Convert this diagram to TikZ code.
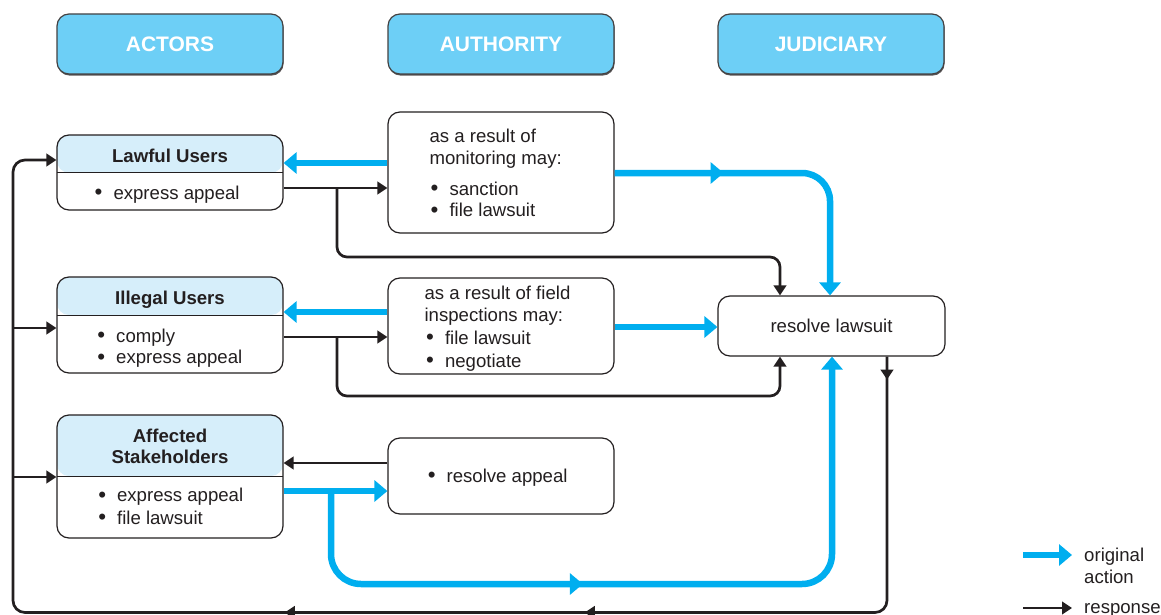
\documentclass[tikz,border=0pt]{standalone}
\usepackage{fontspec}
\usepackage{graphicx}
\setmainfont{Liberation Sans}
\usetikzlibrary{arrows.meta,decorations.markings,shadows}
\definecolor{cyanA}{HTML}{00AEEF}
\definecolor{hdrBlue}{HTML}{6DCFF6}
\definecolor{lightHdr}{HTML}{D6EEFA}
\definecolor{ink}{HTML}{231F20}
\newcommand\bul[1]{\makebox[18.8pt][l]{\raisebox{-0.04em}{\scalebox{1.2}{\textbullet}}}#1}
\tikzset{
  bluetip/.tip={Triangle[width=21pt,length=13pt]},
  blacktip/.tip={Triangle[width=12.5pt,length=10pt]},
  headbox/.style={draw=ink!85, line width=1.2pt, fill=hdrBlue, rounded corners=12pt,
    minimum width=226pt, minimum height=60pt, inner sep=0pt, text=white,
    font=\fontsize{21}{24}\selectfont\bfseries,
    drop shadow={shadow xshift=0.6pt, shadow yshift=-1.6pt, fill=ink!75, opacity=1}},
  actbox/.style={draw=ink, line width=1.2pt, rounded corners=12pt, fill=white,
    minimum width=226pt, inner sep=0pt,
    path picture={\fill[lightHdr] (path picture bounding box.north west) rectangle ([yshift=-#1]path picture bounding box.north east);
      \draw[ink, line width=1pt] ([yshift=-#1]path picture bounding box.north west) -- ([yshift=-#1]path picture bounding box.north east);}},
  authbox/.style={draw=ink, line width=1.2pt, rounded corners=12pt, fill=white,
    minimum width=226pt, inner sep=0pt},
  txt/.style={font=\fontsize{18.6}{22}\selectfont, text=ink, inner sep=0pt, anchor=mid west, yshift=-3.5pt},
  ctxt/.style={font=\fontsize{18.6}{22}\selectfont, text=ink, inner sep=0pt, anchor=mid, yshift=-3.5pt},
  btxt/.style={font=\fontsize{18.6}{22}\selectfont\bfseries, text=ink, inner sep=0pt, anchor=mid, yshift=-2.5pt},
  bluel/.style={draw=cyanA, line width=6.5pt},
  blk/.style={draw=ink, line width=2.7pt},
  midtip/.style 2 args={postaction={decorate}, decoration={markings, mark=at position #1 with {\arrow{#2}}}},
}
\begin{document}
\begin{tikzpicture}[x=1pt,y=-1pt]
\useasboundingbox (0,0) rectangle (1161,615);

% column headers
\node[headbox] (hA) at (170,44) {ACTORS};
\node[headbox] (hB) at (501,44) {AUTHORITY};
\node[headbox] (hC) at (831,44) {JUDICIARY};

% actor boxes
\node[actbox=37.7pt, minimum height=75pt] (law) at (170,172.5) {};
\node[actbox=38pt, minimum height=96pt] (ill) at (170,325) {};
\node[actbox=61pt, minimum height=123pt] (aff) at (170,476.5) {};

\node[btxt] (lawT) at (170,157) {Lawful Users};
\node[txt] (law1) at (94.5,193) {\bul{express appeal}};

\node[btxt] (illT) at (170,299.5) {Illegal Users};
\node[txt] (ill1) at (97.2,336) {\bul{comply}};
\node[txt] (ill2) at (97.2,357.5) {\bul{express appeal}};

\node[btxt] (affT1) at (170,437) {Affected};
\node[btxt] (affT2) at (170,458.5) {Stakeholders};
\node[txt] (aff1) at (98.1,495.5) {\bul{express appeal}};
\node[txt] (aff2) at (98.1,518) {\bul{file lawsuit}};

% authority boxes
\node[authbox, minimum height=121pt] (mon) at (501,172.5) {};
\node[authbox, minimum height=96pt] (fld) at (501,326) {};
\node[authbox, minimum height=76pt] (app) at (501,476) {};

\node[txt] (mon1) at (429.3,136) {as a result of};
\node[txt] (mon2) at (429.3,158) {monitoring may:};
\node[txt] (mon3) at (430.5,189) {\bul{sanction}};
\node[txt] (mon4) at (430.5,210.5) {\bul{file lawsuit}};

\node[txt] (fld1) at (424.4,293.8) {as a result of field};
\node[txt] (fld2) at (424.4,315.5) {inspections may:};
\node[txt] (fld3) at (426,338) {\bul{file lawsuit}};
\node[txt] (fld4) at (426,361) {\bul{negotiate}};

\node[txt] (app1) at (427.6,476) {\bul{resolve appeal}};

% judiciary
\node[authbox, minimum width=227pt, minimum height=60pt] (res) at (831.5,326) {};
\node[ctxt] (resT) at (831.5,326.5) {resolve lawsuit};

% junctions
\coordinate (jLaw) at (337,188);
\coordinate (jIll) at (337,337);
\coordinate (jAff) at (331,491);
\coordinate (jLoopI) at (13,328);
\coordinate (jLoopA) at (13,477);

% original actions (blue)
\draw[bluel, -{bluetip}] (mon.west |- 0,163) -- (law.east |- 0,163);
\draw[bluel, -{bluetip}] (fld.west |- 0,312) -- (ill.east |- 0,312);
\draw[bluel, -{bluetip}] (fld.east |- 0,327) -- (res.west |- 0,327);
\draw[bluel, -{bluetip}] (aff.east |- 0,491) -- (app.west |- 0,491);
\draw[bluel, rounded corners=28pt, -{bluetip}, midtip={109pt}{bluetip}]
  (mon.east |- 0,173) -- (830,173) -- (res.north -| 830,0);
\draw[bluel, rounded corners=30pt, -{bluetip}, midtip={332pt}{bluetip}]
  (jAff) -- (331,584) -- (832,584) -- (res.south -| 832,0);

% responses (black)
\draw[blk, -{blacktip}] (law.east |- 0,188) -- (mon.west |- 0,188);
\draw[blk, -{blacktip}] (ill.east |- 0,337) -- (fld.west |- 0,337);
\draw[blk, -{blacktip}] (app.west |- 0,463) -- (aff.east |- 0,463);
\draw[blk, rounded corners=10pt, -{blacktip}]
  (jLaw) -- (337,257) -- (780,257) -- (res.north -| 780,0);
\draw[blk, rounded corners=10pt, -{blacktip}]
  (jIll) -- (337,396) -- (780,396) -- (res.south -| 780,0);
\draw[blk, rounded corners=12pt, -{blacktip},
  postaction={decorate}, decoration={markings,
    mark=at position 23pt with {\arrow{blacktip}},
    mark=at position 553pt with {\arrow{blacktip}},
    mark=at position 853pt with {\arrow{blacktip}}}]
  (res.south -| 887,0) -- (887,612.5) -- (13,612.5) -- (13,160) -- (law.west |- 0,160);
\draw[blk, -{blacktip}] (jLoopI) -- (ill.west |- jLoopI);
\draw[blk, -{blacktip}] (jLoopA) -- (aff.west |- jLoopA);

% legend
\coordinate (lg1a) at (1023,555);
\coordinate (lg1b) at (1072,555);
\coordinate (lg2a) at (1023,608);
\coordinate (lg2b) at (1072,608);
\draw[bluel, -{bluetip}] (lg1a) -- (lg1b);
\draw[blk, -{blacktip}] (lg2a) -- (lg2b);
\node[txt] (lgT1) at (1084,555) {original};
\node[txt] (lgT2) at (1084,577) {action};
\node[txt] (lgT3) at (1084,607) {response};
\end{tikzpicture}
\end{document}
